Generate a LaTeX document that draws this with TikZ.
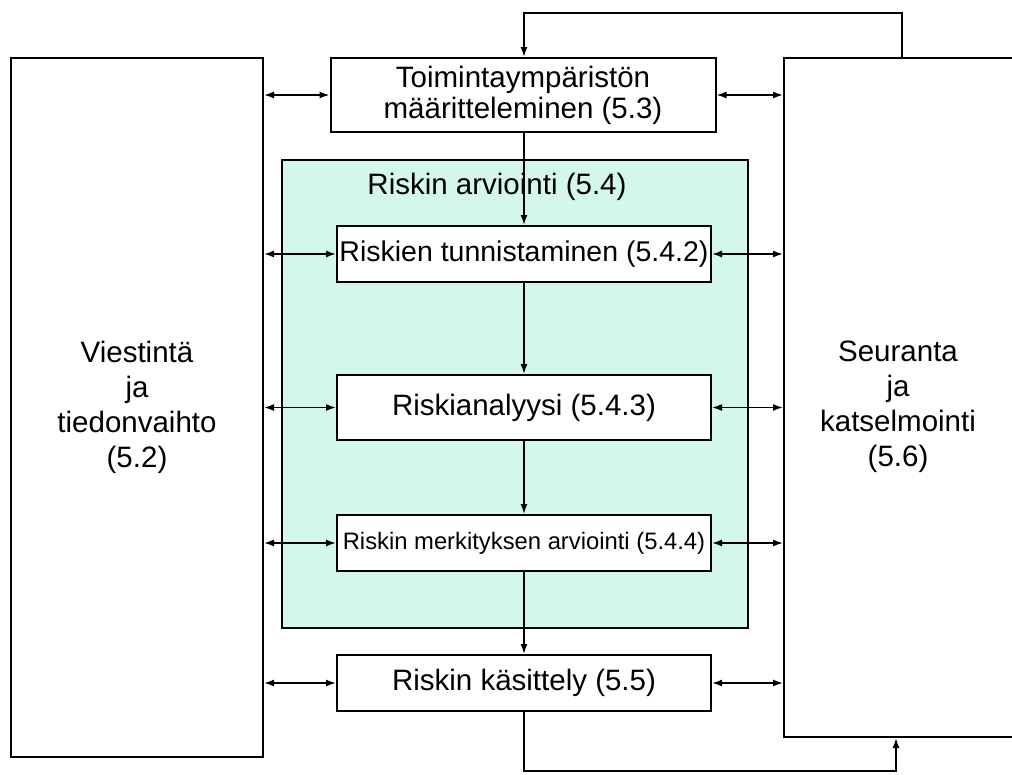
\documentclass[tikz,border=0pt]{standalone}
\usepackage{fontspec}
\setmainfont{Liberation Sans}
\usepackage{xcolor}
\usetikzlibrary{positioning}
\usetikzlibrary{arrows.meta}
\usetikzlibrary{calc}

\definecolor{mint}{RGB}{212,247,236}

\newcommand{\bigtext}{\fontsize{29.5}{33}\selectfont}
\newcommand{\smalltext}{\fontsize{23.8}{27}\selectfont}

\begin{document}
\begin{tikzpicture}[x=1pt,y=-1pt,
                bigbox/.style={draw,line width=2pt,fill=white,inner sep=0pt},
                stepbox/.style={bigbox,minimum width=374pt,minimum height=56pt,font=\bigtext},
                area/.style={draw,line width=2pt,fill=mint,inner sep=0pt},
                link/.style={line width=1.6pt,-{Latex[length=10pt,width=7pt]}},
                dlink/.style={line width=1.6pt,{Latex[length=10pt,width=7pt]}-{Latex[length=10pt,width=7pt]}}]
             \clip (0,0) rectangle (1012,774);
             \fill[white] (0,0) rectangle (1012,774);
             % side boxes
             \node[bigbox,minimum width=252pt,minimum height=699pt] (viest) at (137,407.5) {};
             \node[align=center,font=\fontsize{29.5}{35}\selectfont] (viesttxt) at (137,407) {Viestintä\\ja\\tiedonvaihto\\(5.2)};
             \node[bigbox,minimum width=260pt,minimum height=679pt] (seur) at (914,397.5) {};
             \node[align=center,font=\fontsize{29.5}{35}\selectfont] (seurtxt) at (898,407) {Seuranta\\ja\\katselmointi\\(5.6)};
             % riskin arviointi area
             \node[area,minimum width=466pt,minimum height=468pt] (arv) at (515,394) {};
             \node[font=\bigtext] (arvtxt) at (497,187) {Riskin arviointi (5.4)};
             % process boxes
             \node[bigbox,minimum width=385pt,minimum height=74pt,align=center,font=\fontsize{29.5}{31}\selectfont] (toim) at (523,95) {Toimintaympäristön\\määritteleminen (5.3)};
             \node[stepbox,inner xsep=-6pt,font=\fontsize{28.5}{33}\selectfont] (tunn) at (524,254) {Riskien tunnistaminen (5.4.2)};
             \node[stepbox,minimum height=65pt] (anal) at (524,407.5) {Riskianalyysi (5.4.3)};
             \node[stepbox,font=\smalltext] (merk) at (524,543) {Riskin merkityksen arviointi (5.4.4)};
             \node[stepbox] (kas) at (524,683) {Riskin käsittely (5.5)};
             % main flow
             \draw[link] (toim.south -| tunn.north) -- (tunn.north);
             \draw[link] (tunn) -- (anal);
             \draw[link] (anal) -- (merk);
             \draw[link] (merk) -- (kas);
             % links to the side boxes
             \foreach \n in {toim,tunn,anal,merk,kas}{
                \draw[dlink] (viest.east |- \n.west) -- (\n.west);
                \draw[dlink] (\n.east) -- (seur.west |- \n.east);
             }
             % feedback loops
             \coordinate (top) at (902,13);
             \coordinate (bot) at (896,771);
             \draw[link] (seur.north -| top) |- (tunn.north |- top) -- (tunn.north |- toim.north);
             \draw[link] (kas.south) |- (bot) -- (seur.south -| bot);
             \end{tikzpicture}
\end{document}
